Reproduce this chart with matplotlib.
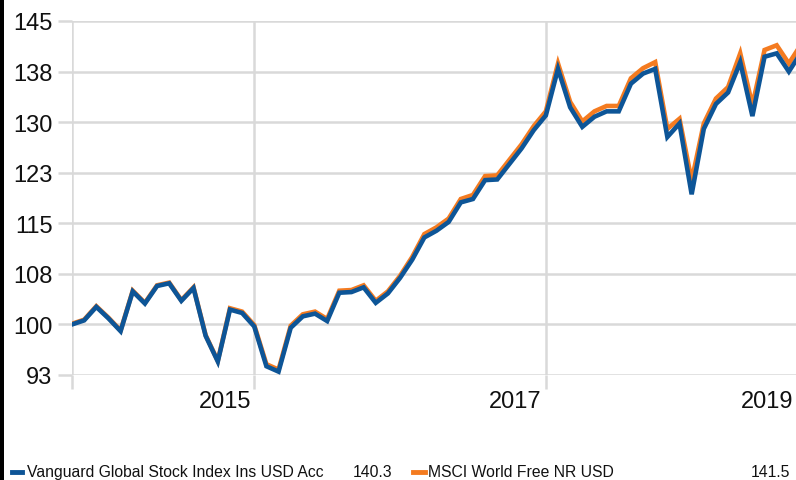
import matplotlib.pyplot as plt
from matplotlib.lines import Line2D
from matplotlib.patches import Rectangle

plt.rcParams['font.family'] = ['Liberation Sans', 'DejaVu Sans']

# monthly growth of 100, index 0 = first month shown
fund = [100.0, 100.6, 102.6, 100.9, 99.0, 104.9, 103.1, 105.7, 106.1, 103.5,
        105.4, 98.3, 94.5, 102.2, 101.7, 99.7, 93.8, 93.0, 99.5, 101.2,
        101.6, 100.5, 104.7, 104.8, 105.5, 103.2, 104.6, 106.9, 109.6, 112.9,
        113.9, 115.2, 118.1, 118.6, 121.4, 121.5, 123.8, 126.1, 128.8, 131.0,
        137.9, 132.2, 129.3, 130.8, 131.6, 131.6, 135.7, 137.2, 137.9, 127.8,
        129.8, 119.3, 129.0, 132.7, 134.4, 138.9, 130.9, 139.7, 140.2, 137.5,
        140.3]
index = [100.1, 100.7, 102.7, 101.0, 99.1, 105.0, 103.2, 105.8, 106.2, 103.6,
         105.5, 98.4, 94.6, 102.4, 101.9, 99.9, 94.1, 93.3, 99.8, 101.5,
         101.9, 100.8, 105.0, 105.1, 105.8, 103.5, 104.9, 107.2, 110.0, 113.4,
         114.4, 115.7, 118.6, 119.2, 122.0, 122.1, 124.4, 126.7, 129.4, 131.6,
         138.7, 133.0, 130.1, 131.6, 132.4, 132.4, 136.5, 138.0, 138.9, 129.0,
         130.5, 121.3, 129.8, 133.5, 135.2, 140.2, 132.5, 140.7, 141.4, 138.7,
         141.5]
months = list(range(len(fund)))

yticks = [92.5, 100, 107.5, 115, 122.5, 130, 137.5, 145]
ylabels = ['93', '100', '108', '115', '123', '130', '138', '145']
year_grid = [0, 15, 39]
year_labels = ['2015', '2017', '2019']
year_pos = [12.6, 36.5, 57.2]

names = ['Vanguard Global Stock Index Ins USD Acc', 'MSCI World Free NR USD']
last = ['140.3', '141.5']

blue = '#0d5597'
orange = '#f47b20'
grid = '#d9d9d9'

W, H = 796, 481
fig = plt.figure(figsize=(W / 100, H / 100), dpi=100)
ax = fig.add_axes([72 / W, 1 - 376 / H, (W - 72) / W, (376 - 22) / H])

ax.plot(months, index, color=orange, lw=3.3, solid_joinstyle='miter', zorder=3)
ax.plot(months, fund, color=blue, lw=3.3, solid_joinstyle='miter', zorder=4)

ax.set_xlim(0, (W - 72) / 12.15)
ax.set_ylim(92.5, 145)
ax.set_yticks(yticks)
ax.set_yticklabels(ylabels)
ax.set_xticks(year_grid)
ax.set_xticklabels([])
ax.grid(True, color=grid, lw=1.8)
ax.set_axisbelow(True)
for s in ax.spines.values():
    s.set_visible(False)
ax.tick_params(axis='both', length=10, width=1.8, color=grid, labelsize=17,
               labelcolor='#111111', pad=4)

for x, lab in zip(year_pos, year_labels):
    ax.text(x, -0.074, lab, transform=ax.get_xaxis_transform(), ha='center',
            va='center', fontsize=17, color='#111111', clip_on=False)

# legend row at the bottom
ly = 1 - 473 / H
fs = 11.3
fig.add_artist(Line2D([12 / W, 22 / W], [ly, ly], color=blue, lw=3.5))
fig.text(27 / W, ly, names[0], fontsize=fs, va='center', color='#111111')
fig.text(392 / W, ly, last[0], fontsize=fs, va='center', ha='right', color='#111111')
fig.add_artist(Line2D([413 / W, 425 / W], [ly, ly], color=orange, lw=3.5))
fig.text(428 / W, ly, names[1], fontsize=fs, va='center', color='#111111')
fig.text(790 / W, ly, last[1], fontsize=fs, va='center', ha='right', color='#111111')

fig.add_artist(Rectangle((0, 0), 4 / W, 1, transform=fig.transFigure,
                         color='black', lw=0))

fig.savefig('out.png', dpi=100)
